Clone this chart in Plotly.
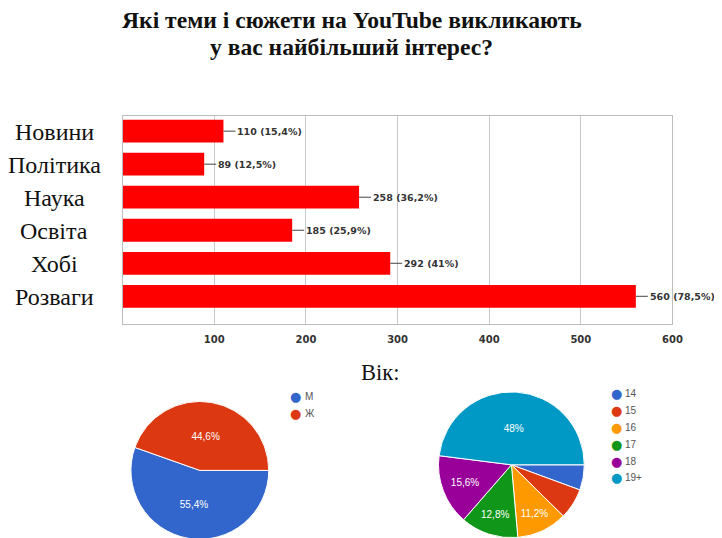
import plotly.graph_objects as go

# ---- data ----
categories = ["Новини", "Політика", "Наука", "Освіта", "Хобі", "Розваги"]
counts = [110, 89, 258, 185, 292, 560]
shares = ["15,4%", "12,5%", "36,2%", "25,9%", "41%", "78,5%"]
x_ticks = [100, 200, 300, 400, 500, 600]

gender_labels = ["М", "Ж"]
gender_values = [55.4, 44.6]
gender_colors = ["#3366cc", "#dc3912"]

age_labels = ["14", "15", "16", "17", "18", "19+"]
age_values = [5.6, 6.8, 11.2, 12.8, 15.6, 48.0]
age_colors = ["#3366cc", "#dc3912", "#ff9900", "#109618", "#990099", "#0099c6"]

title_lines = ["Які теми і сюжети на YouTube викликають", "у вас найбільший інтерес?"]
age_title = "Вік:"

# page geometry: body margin 8px, page shown at a slight scale
OFF = 8
S = 0.9875
FW, FH = 722, 537


def fx(p):
    return p / S - OFF


def px_x(p):
    return min(1.0, max(0.0, fx(p) / FW))


def px_y(p):
    return min(1.0, max(0.0, (FH - fx(p)) / FH))


def pct_text(v, min_show=10):
    if v < min_show:
        return ""
    s = ("%.1f" % v).rstrip("0").rstrip(".")
    return s.replace(".", ",") + "%"


fig = go.Figure()

# bar chart
fig.add_trace(go.Bar(
    x=counts, y=categories, orientation="h",
    marker=dict(color="#ff0000", line=dict(width=0)),
    showlegend=False, hoverinfo="x+y",
))

pie_font = dict(color="white", size=10, family="Liberation Sans")

# gender pie
fig.add_trace(go.Pie(
    labels=gender_labels, values=gender_values,
    marker=dict(colors=gender_colors, line=dict(color="white", width=1)),
    text=[pct_text(v) for v in gender_values], textinfo="text",
    textposition="inside", insidetextfont=pie_font, insidetextorientation="horizontal",
    sort=False, direction="clockwise", rotation=90,
    domain=dict(x=[px_x(131), px_x(269)], y=[px_y(538), px_y(391)]),
    showlegend=False,
))

# age pie
fig.add_trace(go.Pie(
    labels=age_labels, values=age_values,
    marker=dict(colors=age_colors, line=dict(color="white", width=1)),
    text=[pct_text(v) for v in age_values], textinfo="text",
    textposition="inside", insidetextfont=pie_font, insidetextorientation="horizontal",
    sort=False, direction="clockwise", rotation=90,
    domain=dict(x=[px_x(439), px_x(585)], y=[px_y(532), px_y(386)]),
    showlegend=False,
))

shapes = []
annotations = []

# connector lines, value labels, category labels
for i, (c, v, s) in enumerate(zip(categories, counts, shares)):
    shapes.append(dict(type="line", xref="x", yref="y", xsizemode="pixel", xanchor=v,
                       x0=0, x1=12, y0=i, y1=i, line=dict(color="#444444", width=1)))
    annotations.append(dict(x=v, y=c, xref="x", yref="y", text=f"{v} ({s})",
                            showarrow=False, xanchor="left", xshift=12,
                            font=dict(family="DejaVu Sans", size=9.5, color="#333333",
                                      weight="bold")))
    annotations.append(dict(x=px_x(54), y=c, xref="paper", yref="y", text=c,
                            showarrow=False, xanchor="center", yshift=-1,
                            font=dict(family="Liberation Serif", size=24, color="#111111")))

# title lines
for j, line in enumerate(title_lines):
    annotations.append(dict(x=px_x(352), y=px_y(20 + 26 * j), xref="paper", yref="paper",
                            text=f"<b>{line}</b>", showarrow=False,
                            xanchor="center", yanchor="middle",
                            font=dict(family="Liberation Serif", size=23.6, color="#111111")))

annotations.append(dict(x=px_x(380), y=px_y(368), xref="paper", yref="paper", text=age_title,
                        showarrow=False, xanchor="center", yanchor="middle",
                        font=dict(family="Liberation Serif", size=22.5, color="#111111")))


# legends (circle swatch + label)
def add_legend(labels, colors, x_dot, y_top, step):
    for k, (lab, col) in enumerate(zip(labels, colors)):
        yy = px_y(y_top + step * k)
        annotations.append(dict(x=px_x(x_dot), y=yy, xref="paper", yref="paper",
                                text="●", showarrow=False, xanchor="center", yanchor="middle",
                                font=dict(family="DejaVu Sans", size=13, color=col)))
        annotations.append(dict(x=px_x(x_dot + 7), y=yy, xref="paper", yref="paper",
                                text=lab, showarrow=False, xanchor="left", yanchor="middle",
                                font=dict(family="Liberation Sans", size=10, color="#555555")))


add_legend(gender_labels, gender_colors, 296, 392, 16)
add_legend(age_labels, age_colors, 617, 389, 16.6)

fig.update_layout(
    width=FW, height=FH,
    margin=dict(l=0, r=0, t=0, b=0),
    paper_bgcolor="white", plot_bgcolor="white",
    showlegend=False,
    xaxis=dict(domain=[px_x(122.7), px_x(673.3)], range=[0, 600], tickvals=x_ticks,
               showgrid=True, gridcolor="#c8c8c8", gridwidth=1,
               showline=True, linecolor="#bdbdbd", mirror=True, zeroline=False,
               ticks="", ticklabelstandoff=6,
               tickfont=dict(family="DejaVu Sans", size=10, color="#333333", weight="bold"),
               fixedrange=True),
    yaxis=dict(domain=[px_y(320), px_y(115)], range=[5.84, -0.445], showticklabels=False,
               showline=True, linecolor="#bdbdbd", mirror=True, ticks="", showgrid=False,
               zeroline=False, fixedrange=True),
    bargap=0.31,
    shapes=shapes,
    annotations=annotations,
)

fig.write_html("out.html")
